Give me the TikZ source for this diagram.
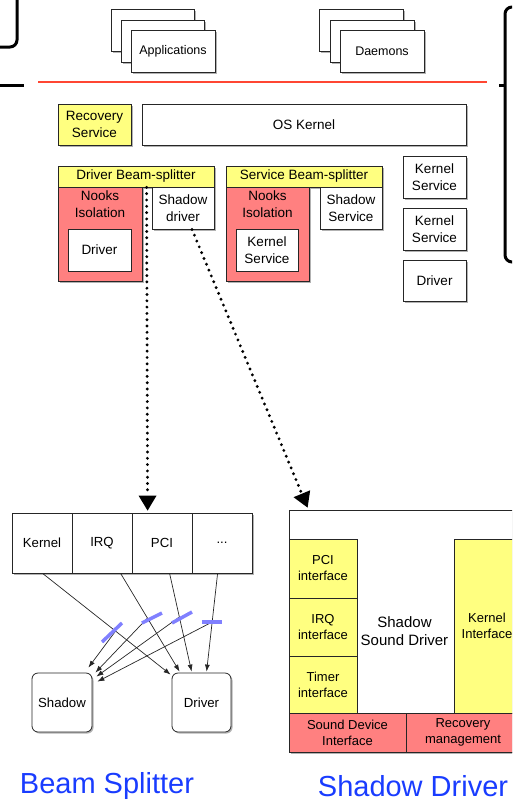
\documentclass[tikz,border=0pt]{standalone}
\usepackage{fontspec}
\setmainfont{Liberation Sans}
\usetikzlibrary{arrows.meta,shadows,calc}
\definecolor{ylw}{RGB}{255,255,128}
\definecolor{rdf}{RGB}{255,128,128}
\definecolor{redline}{RGB}{255,70,50}
\definecolor{lblue}{RGB}{25,60,255}
\definecolor{markc}{RGB}{128,128,255}
\newcommand\fA{\fontsize{12.5}{15}\selectfont}
\newcommand\fB{\fontsize{13.5}{16.5}\selectfont}
\newcommand\fC{\fontsize{13.2}{16}\selectfont}
\newcommand\fD{\fontsize{13}{16}\selectfont}
\newcommand\fE{\fontsize{15}{18.5}\selectfont}
\newcommand\fL{\fontsize{29}{34}\selectfont}
\newcommand\bx[7]{\node[#6, minimum width={#4-#2}, minimum height={#5-#3}] (#1) at ({(#2+#4)/2},{(#3+#5)/2}) {#7};}
\begin{document}
\begin{tikzpicture}[x=1pt,y=-1pt,
  shd/.style={drop shadow={shadow xshift=1.5pt,shadow yshift=-1.5pt,fill=black,opacity=0.3}},
  base/.style={draw=black!85, line width=0.8pt, inner sep=0pt, align=center},
  wbox/.style={base, fill=white, shd},
  ybox/.style={base, fill=ylw, shd},
  rbox/.style={base, fill=rdf, shd},
  wflat/.style={base, fill=white},
  yflat/.style={base, fill=ylw},
  rflat/.style={base, fill=rdf},
  rwbox/.style={wbox, rounded corners=6pt},
  nooks/.style={label={[font=\fB,align=center,anchor=north,inner sep=0pt,yshift=-4pt]north:Nooks\\Isolation}},
  tarrow/.style={draw=black!85, line width=0.7pt, -{Latex[length=7pt,width=5pt]}},
  dotarr/.style={line width=3.2pt, line cap=round, dash pattern=on 0pt off 6.3pt,
     -{Triangle[length=15pt,width=18pt,line width=0pt]}},
  heavy/.style={line width=3pt, draw=black},
  cut/.style={draw=markc, line width=3.5pt},
  lbl/.style={text=lblue, font=\fL, inner sep=0pt, anchor=base}
]
\path[use as bounding box] (0,0) rectangle (512,801);
\clip (0,0) rectangle (512,801);

% fragments at the edges
\draw[heavy, rounded corners=7pt] (-10,-10) rectangle (17,47);
\draw[heavy] (0,85) -- (24,85);
\draw[heavy, rounded corners=7pt] (520,7) -- (505,7) -- (505,262) -- (520,262);
\draw[heavy] (499,85) -- (505,85);

% user level
\bx{appA}{111}{9}{194}{51}{wbox}{}
\bx{appB}{121}{20}{204}{62}{wbox}{}
\bx{app}{131}{30}{215}{72}{wbox,font=\fA}{Applications}
\bx{dmA}{319}{9}{403}{51}{wbox}{}
\bx{dmB}{330}{20}{414}{62}{wbox}{}
\bx{dm}{340}{30}{424}{72}{wbox,font=\fA}{Daemons}

\draw[draw=redline, line width=1.3pt] (38,82) -- (487,82);

% kernel level
\bx{rec}{58}{104}{131}{145}{ybox,font=\fB}{Recovery\\Service}
\bx{os}{142}{104}{466}{145}{wbox,font=\fB}{OS Kernel}
\bx{dbs}{58}{166}{214}{187}{ybox,font=\fB}{Driver Beam-splitter}
\bx{nk1}{58}{187}{142}{281}{rbox,nooks}{}
\bx{drv1}{68}{229}{131}{271}{wflat,font=\fB}{Driver}
\bx{shd1}{152}{187}{214}{229}{wbox,font=\fB}{Shadow\\driver}
\bx{sbs}{226}{166}{382}{187}{ybox,font=\fB}{Service Beam-splitter}
\bx{nk2}{226}{187}{309}{281}{rbox,nooks}{}
\bx{ks1}{236}{229}{298}{271}{wflat,font=\fB}{Kernel\\Service}
\bx{shs}{320}{187}{382}{229}{wbox,font=\fB}{Shadow\\Service}
\bx{ks2}{403}{156}{466}{198}{wbox,font=\fB}{Kernel\\Service}
\bx{ks3}{403}{208}{466}{250}{wbox,font=\fB}{Kernel\\Service}
\bx{drv2}{403}{260}{466}{301}{wbox,font=\fB}{Driver}

% beam splitter detail
\bx{tbl}{12}{513}{252}{573}{wbox}{}
\bx{ck}{12}{513}{72}{573}{wflat,font=\fC}{Kernel}
\bx{ci}{72}{513}{132}{573}{wflat,font=\fC}{IRQ}
\bx{cp}{132}{513}{192}{573}{wflat,font=\fC}{PCI}
\bx{cd}{192}{513}{252}{573}{wflat,font=\fC}{...}
\bx{sh}{32}{673}{92}{732}{rwbox,font=\fC}{Shadow}
\bx{dv}{172}{673}{231}{732}{rwbox,font=\fC}{Driver}

\coordinate (k0) at ($(ck.south west)+(31,0)$);
\coordinate (k1) at ($(dv.north west)+(-1,2)$);
\coordinate (i0) at ($(ci.south west)+(49,0)$);
\coordinate (i1) at ($(dv.north west)+(8,-1)$);
\coordinate (p0) at ($(cp.south west)+(38,0)$);
\coordinate (p1) at ($(dv.north west)+(20,-1)$);
\coordinate (d0) at ($(cd.south west)+(26,0)$);
\coordinate (d1) at ($(dv.north west)+(35,-1)$);
\draw[tarrow] (k0) -- (k1);
\draw[tarrow] (i0) -- (i1);
\draw[tarrow] (p0) -- (p1);
\draw[tarrow] (d0) -- (d1);
\coordinate (kb) at ($(k0)!0.57!(k1)$);
\coordinate (ib) at ($(i0)!0.455!(i1)$);
\coordinate (pb) at ($(p0)!0.444!(p1)$);
\coordinate (db) at ($(d0)!0.495!(d1)$);
\draw[tarrow] (kb) -- ($(sh.north east)+(-4,-5)$);
\draw[tarrow] (ib) -- ($(sh.north east)+(3,0)$);
\draw[tarrow] (pb) -- ($(sh.north east)+(4,4)$);
\draw[tarrow] (db) -- ($(sh.north east)+(5,9)$);
\draw[cut] (102,642) -- (122,623);
\draw[cut] (142,623) -- (162,613);
\draw[cut] (172,623) -- (192,612);
\draw[cut] (202,622) -- (222,622);

% shadow driver detail
\bx{sdb}{289}{510}{520}{752}{wbox,font=\fE}{Shadow\\Sound Driver}
\bx{pcii}{289}{539}{357}{598}{yflat,font=\fD}{PCI\\interface}
\bx{irqi}{289}{598}{357}{656}{yflat,font=\fD}{IRQ\\interface}
\bx{tmri}{289}{656}{357}{713}{yflat,font=\fD}{Timer\\interface}
\bx{kif}{454}{539}{520}{713}{yflat,font=\fD}{Kernel\\Interface}
\bx{sdi}{289}{713}{406}{752}{rflat,font=\fD}{Sound Device\\Interface}
\bx{rmg}{406}{713}{520}{752}{rflat,font=\fD}{Recovery\\management}

% dotted links
\draw[dotarr] ($(dbs.south west)+(89,0)$) -- ($(cp.north west)+(16,-2)$);
\draw[dotarr] ($(shd1.south)+(9,0)$) -- ($(sdb.north west)+(19,-2)$);

% captions
\node[lbl] (lbs) at (107,793) {Beam Splitter};
\node[lbl] (lsd) at (413,796) {Shadow Driver};
\end{tikzpicture}
\end{document}
